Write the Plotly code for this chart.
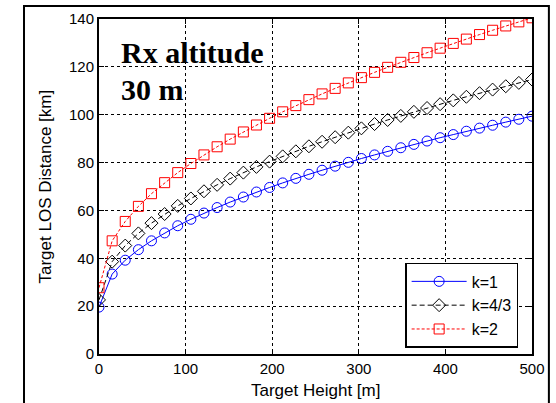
import plotly.graph_objects as go

# Target heights [m]
target_height = [0, 15.2, 30.3, 45.5, 60.6, 75.8, 90.9, 106.1, 121.2, 136.4, 151.5,
                 166.7, 181.8, 197.0, 212.1, 227.3, 242.4, 257.6, 272.7, 287.9, 303.0,
                 318.2, 333.3, 348.5, 363.6, 378.8, 393.9, 409.1, 424.2, 439.4, 454.5,
                 469.7, 484.8, 500.0]

# LOS distance [km] for each refraction factor k
los_k1 = [19.6, 33.4, 39.2, 43.6, 47.3, 50.6, 53.6, 56.3, 58.9, 61.2, 63.5,
          65.6, 67.7, 69.6, 71.5, 73.4, 75.1, 76.8, 78.5, 80.1, 81.7,
          83.2, 84.7, 86.2, 87.6, 89.0, 90.4, 91.7, 93.1, 94.4, 95.6,
          96.9, 98.1, 99.4]
los_k43 = [22.6, 38.6, 45.3, 50.4, 54.7, 58.5, 61.9, 65.0, 68.0, 70.7, 73.3,
           75.8, 78.2, 80.4, 82.6, 84.7, 86.8, 88.7, 90.6, 92.5, 94.3,
           96.1, 97.8, 99.5, 101.2, 102.8, 104.4, 106.0, 107.5, 109.0, 110.5,
           111.9, 113.3, 114.7]
los_k2 = [27.7, 47.3, 55.4, 61.7, 67.0, 71.6, 75.8, 79.6, 83.2, 86.6, 89.8,
          92.8, 95.7, 98.5, 101.2, 103.8, 106.3, 108.7, 111.0, 113.3, 115.5,
          117.7, 119.8, 121.9, 123.9, 125.9, 127.8, 129.8, 131.6, 133.5, 135.3,
          137.1, 138.8, 140.5]

x_ticks = [0, 100, 200, 300, 400, 500]
y_ticks = [0, 20, 40, 60, 80, 100, 120, 140]

SANS = "Liberation Sans, Arial"
SERIF = "Liberation Serif, Times New Roman"

fig = go.Figure()
fig.add_trace(go.Scatter(
    x=target_height, y=los_k1, name="k=1", mode="lines+markers",
    line=dict(color="#0000FF", width=1),
    marker=dict(symbol="circle-open", size=10, color="#0000FF", line=dict(width=1)),
))
fig.add_trace(go.Scatter(
    x=target_height, y=los_k43, name="k=4/3", mode="lines+markers",
    line=dict(color="black", width=1, dash="5px,3px"),
    marker=dict(symbol="diamond-open", size=10, color="black", line=dict(width=1)),
))
fig.add_trace(go.Scatter(
    x=target_height, y=los_k2, name="k=2", mode="lines+markers",
    line=dict(color="#FF0000", width=1, dash="3px,2px"),
    marker=dict(symbol="square-open", size=10, color="#FF0000", line=dict(width=1)),
))

axis_common = dict(
    showline=True, linecolor="black", linewidth=2, mirror="ticks",
    ticks="inside", ticklen=5, tickcolor="black", tickwidth=1,
    showgrid=True, gridcolor="black", gridwidth=1, griddash="dot",
    zeroline=False, automargin=False,
    tickfont=dict(family=SANS, size=15, color="black"),
)

fig.update_xaxes(range=[0, 500], tickvals=x_ticks, **axis_common)
fig.update_yaxes(range=[0, 140], tickvals=y_ticks, **axis_common)

# axis titles
fig.add_annotation(text="Target Height [m]", xref="paper", yref="paper",
                   x=0.5, y=-0.108, xanchor="center", yanchor="middle", showarrow=False,
                   font=dict(family=SANS, size=17, color="black"))
fig.add_annotation(text="Target LOS Distance [km]", xref="paper", yref="paper",
                   x=-0.1247, y=0.5, xanchor="center", yanchor="middle", showarrow=False,
                   textangle=-90, font=dict(family=SANS, size=17, color="black"))

# receiver altitude label
fig.add_annotation(text="<b>Rx altitude</b>", xref="paper", yref="paper",
                   x=0.046, y=0.901, xanchor="left", yanchor="middle", showarrow=False,
                   font=dict(family=SERIF, size=30, color="black"))
fig.add_annotation(text="<b>30 m</b>", xref="paper", yref="paper",
                   x=0.046, y=0.790, xanchor="left", yanchor="middle", showarrow=False,
                   font=dict(family=SERIF, size=30, color="black"))

# outer figure frame
fig.add_shape(type="rect", xref="paper", yref="paper",
              x0=-0.1732, x1=1.039, y0=-0.17, y1=1.0388,
              line=dict(color="black", width=2), fillcolor="rgba(0,0,0,0)", layer="below")

fig.update_layout(
    width=556, height=403,
    margin=dict(l=99, r=24, t=19, b=49),
    paper_bgcolor="white", plot_bgcolor="white",
    showlegend=True,
    legend=dict(x=0.707, y=0.018, xanchor="left", yanchor="bottom",
                bgcolor="white", bordercolor="black", borderwidth=1.5,
                font=dict(family=SANS, size=16, color="black"),
                tracegroupgap=0, itemwidth=55),
)

fig.write_html("out.html")
